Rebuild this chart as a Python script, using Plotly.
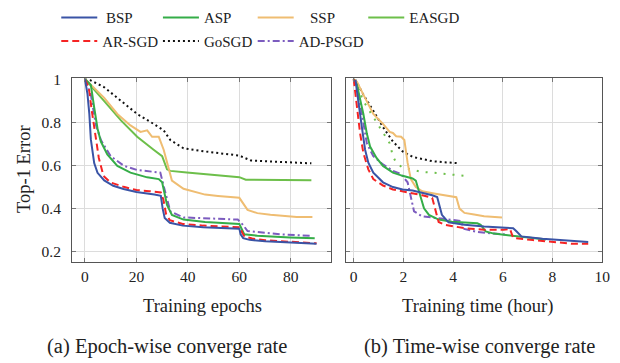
import plotly.graph_objects as go

# ---------------- data: epoch-wise (left panel) ----------------
bsp_ep_x = [0, 1, 1.7, 2.3, 3.6, 4.9, 7.5, 11, 15, 20, 27, 29.5, 30.2, 31, 33, 38, 46, 55, 60, 60.5, 61.5, 64, 70, 80, 90]
bsp_ep_y = [1.0, 0.93, 0.84, 0.72, 0.61, 0.565, 0.53, 0.505, 0.49, 0.476, 0.464, 0.458, 0.40, 0.355, 0.333, 0.32, 0.313, 0.309, 0.306, 0.28, 0.262, 0.254, 0.248, 0.242, 0.236]

asp_ep_x = [0, 2.3, 3.6, 4.9, 6.2, 8.7, 12.6, 17.7, 24.2, 28.7, 30, 31.9, 33.8, 38.3, 46.7, 55, 60, 61.9, 67, 79.7, 89.3]
asp_ep_y = [1.0, 0.973, 0.868, 0.77, 0.71, 0.65, 0.597, 0.566, 0.544, 0.536, 0.521, 0.416, 0.37, 0.348, 0.337, 0.332, 0.328, 0.28, 0.273, 0.265, 0.261]

ssp_ep_x = [0, 7.5, 12.6, 17.7, 21.6, 24.2, 26.1, 28.7, 30.6, 32.5, 33.8, 38.3, 46.7, 51.7, 60, 63.2, 67, 72.1, 82.3, 88.4]
ssp_ep_y = [1.0, 0.913, 0.838, 0.785, 0.755, 0.762, 0.732, 0.732, 0.672, 0.581, 0.529, 0.491, 0.464, 0.458, 0.449, 0.393, 0.378, 0.37, 0.36, 0.36]

easgd_ep_x = [0, 3, 7.5, 14, 20.3, 26.7, 30, 31.9, 33.2, 39.6, 46.7, 55, 60, 62.5, 70, 76, 88]
easgd_ep_y = [1.0, 0.96, 0.898, 0.808, 0.732, 0.672, 0.642, 0.581, 0.574, 0.566, 0.559, 0.552, 0.545, 0.533, 0.533, 0.532, 0.531]

arsgd_ep_x = [0, 1.5, 2.7, 3.8, 5.4, 7.2, 10, 15, 20, 25, 29.5, 30.5, 31.5, 33, 38, 46, 55, 60.5, 61, 62, 65, 70, 80, 90]
arsgd_ep_y = [1.0, 0.96, 0.85, 0.755, 0.634, 0.551, 0.52, 0.5, 0.485, 0.48, 0.474, 0.44, 0.375, 0.345, 0.328, 0.32, 0.315, 0.312, 0.29, 0.27, 0.26, 0.252, 0.245, 0.238]

gosgd_ep_x = [0, 2, 7.5, 13.9, 20.3, 26.7, 30.6, 33.2, 38.3, 46.7, 56.8, 60, 64.5, 75.9, 88]
gosgd_ep_y = [1.0, 0.995, 0.962, 0.9, 0.838, 0.792, 0.762, 0.717, 0.679, 0.664, 0.649, 0.645, 0.622, 0.615, 0.609]

adpsgd_ep_x = [0, 2.3, 4.2, 6.2, 10, 15.2, 20.3, 29.3, 31.2, 33.2, 38.3, 46.7, 59.4, 61.3, 63.2, 75.9, 87.4]
adpsgd_ep_y = [1.0, 0.928, 0.79, 0.717, 0.642, 0.597, 0.578, 0.566, 0.476, 0.386, 0.358, 0.355, 0.348, 0.325, 0.295, 0.28, 0.273]

# ---------------- data: time-wise (right panel, hours) ----------------
bsp_t_x = [0.07, 0.2, 0.33, 0.46, 0.59, 0.79, 1.18, 1.58, 1.97, 2.37, 2.76, 3.16, 3.36, 3.55, 3.82, 4.46, 5.25, 6.03, 6.42, 6.56, 6.75, 7.6, 8.39, 9.44]
bsp_t_y = [0.996, 0.898, 0.777, 0.672, 0.612, 0.566, 0.521, 0.499, 0.488, 0.483, 0.473, 0.461, 0.453, 0.37, 0.335, 0.324, 0.316, 0.311, 0.308, 0.293, 0.27, 0.259, 0.253, 0.244]

asp_t_x = [0.0, 0.13, 0.39, 0.53, 0.66, 0.92, 1.18, 1.58, 1.97, 2.37, 2.5, 2.63, 2.83, 3.03, 3.42, 3.95, 4.46, 4.98, 5.11, 5.31, 5.64, 6.42, 7.6, 7.74]
asp_t_y = [1.0, 0.973, 0.838, 0.747, 0.687, 0.634, 0.597, 0.566, 0.551, 0.539, 0.529, 0.476, 0.4, 0.37, 0.348, 0.338, 0.334, 0.331, 0.324, 0.293, 0.283, 0.274, 0.259, 0.256]

ssp_t_x = [0.0, 0.13, 0.39, 0.79, 1.18, 1.45, 1.58, 1.71, 1.91, 2.04, 2.17, 2.3, 2.5, 2.76, 3.29, 3.95, 4.13, 4.26, 4.46, 4.85, 5.25, 5.97]
ssp_t_y = [1.0, 0.988, 0.928, 0.838, 0.792, 0.755, 0.75, 0.735, 0.732, 0.717, 0.612, 0.536, 0.499, 0.479, 0.468, 0.456, 0.452, 0.399, 0.379, 0.372, 0.364, 0.358]

easgd_t_x = [0.0, 0.13, 0.39, 0.79, 1.18, 1.45, 1.58, 1.71, 1.97, 2.37, 2.76, 3.16, 3.55, 3.95, 4.2, 4.55]
easgd_t_y = [1.0, 0.973, 0.898, 0.823, 0.755, 0.702, 0.642, 0.612, 0.589, 0.578, 0.569, 0.566, 0.562, 0.559, 0.553, 0.55]

arsgd_t_x = [0.0, 0.13, 0.26, 0.39, 0.59, 0.79, 1.18, 1.58, 1.97, 2.37, 2.76, 3.16, 3.29, 3.42, 3.67, 4.46, 5.25, 6.03, 6.29, 6.42, 7.21, 8.0, 8.78, 9.44]
arsgd_t_y = [1.0, 0.868, 0.747, 0.657, 0.581, 0.536, 0.506, 0.488, 0.479, 0.473, 0.461, 0.449, 0.386, 0.337, 0.324, 0.308, 0.301, 0.301, 0.305, 0.263, 0.253, 0.245, 0.236, 0.236]

gosgd_t_x = [0.07, 0.39, 0.79, 1.18, 1.58, 1.97, 2.37, 2.76, 3.16, 3.55, 3.95, 4.15]
gosgd_t_y = [0.996, 0.928, 0.853, 0.777, 0.71, 0.664, 0.639, 0.63, 0.619, 0.615, 0.612, 0.61]

adpsgd_t_x = [0.0, 0.13, 0.33, 0.53, 0.79, 1.18, 1.58, 1.91, 2.17, 2.3, 2.43, 2.76, 3.29, 3.82, 4.3, 4.45, 5.0, 5.6, 6.2]
adpsgd_t_y = [1.0, 0.973, 0.838, 0.702, 0.642, 0.604, 0.574, 0.559, 0.521, 0.446, 0.386, 0.363, 0.355, 0.348, 0.342, 0.305, 0.29, 0.283, 0.278]

# ---------------- ticks / labels ----------------
y_tickvals = [0.2, 0.4, 0.6, 0.8, 1.0]
y_ticktext = ["0.2", "0.4", "0.6", "0.8", "1"]
ep_tickvals = [0, 20, 40, 60, 80]
t_tickvals = [0, 2, 4, 6, 8, 10]

FONT = "Liberation Serif, Times New Roman, serif"
W, H = 620, 363

C_BSP = "#3a54a6"
C_ASP = "#35ad48"
C_SSP = "#efbd72"
C_EASGD = "#6dbf4a"
C_AR = "#f52424"
C_GO = "#111111"
C_AD = "#7c5cbf"

def px_x(p):
    return p / W

def px_y(p):
    return 1 - p / H

NB = "\u00a0"
fig = go.Figure()

series = [
    ("BSP", bsp_ep_x, bsp_ep_y, bsp_t_x, bsp_t_y, C_BSP, "solid", "solid"),
    ("ASP", asp_ep_x, asp_ep_y, asp_t_x, asp_t_y, C_ASP, "solid", "solid"),
    ("SSP", ssp_ep_x, ssp_ep_y, ssp_t_x, ssp_t_y, C_SSP, "solid", "solid"),
    ("EASGD", easgd_ep_x, easgd_ep_y, easgd_t_x, easgd_t_y, C_EASGD, "solid", "2px,7px"),
    ("AR-SGD", arsgd_ep_x, arsgd_ep_y, arsgd_t_x, arsgd_t_y, C_AR, "7px,4px", "7px,4px"),
    ("GoSGD", gosgd_ep_x, gosgd_ep_y, gosgd_t_x, gosgd_t_y, C_GO, "2px,3px", "2px,3px"),
    ("AD-PSGD", adpsgd_ep_x, adpsgd_ep_y, adpsgd_t_x, adpsgd_t_y, C_AD, "7px,3px,2px,3px", "7px,3px,2px,3px"),
]
# extra gap (in no-break spaces) between legend line and its text, as in the reference
leg_pad = [1, 0, 3, 0, 0, 0, 0]

# legend item positions (line start x px, row center y px)
leg_pos = [(62, 10), (165, 10), (261, 10), (373, 10), (62, 34), (165, 34), (261, 34)]

order = [5, 3, 2, 6, 1, 4, 0]
for i in order:
    name, ex, ey, tx, ty, col, dash_ep, dash_t = series[i]
    lg = "legend" if i == 0 else f"legend{i+1}"
    label = NB * leg_pad[i] + name
    fig.add_trace(go.Scatter(x=ex, y=ey, mode="lines", name=label, legend=lg,
                             line=dict(color=col, width=2, dash=dash_ep),
                             xaxis="x", yaxis="y", showlegend=True))
    fig.add_trace(go.Scatter(x=tx, y=ty, mode="lines", name=label, legend=lg,
                             line=dict(color=col, width=2, dash=dash_t),
                             xaxis="x2", yaxis="y2", showlegend=False))

legends = {}
for i, (lx, ly) in enumerate(leg_pos):
    key = "legend" if i == 0 else f"legend{i+1}"
    legends[key] = dict(x=px_x(lx - 5), y=px_y(ly), xanchor="left", yanchor="middle",
                        orientation="h", bgcolor="rgba(0,0,0,0)", borderwidth=0,
                        font=dict(family=FONT, size=15, color="#222"),
                        itemwidth=36, tracegroupgap=0)

axis_common = dict(showgrid=True, gridcolor="#dcdcdc", gridwidth=1,
                   showline=True, linecolor="#555", linewidth=1, mirror="ticks",
                   ticks="inside", ticklen=4, tickcolor="#777",
                   zeroline=False, tickfont=dict(family=FONT, size=15.5, color="#222"))

xd1 = [73 / W, 335 / W]
xd2 = [351 / W, 610 / W]
yd = [1 - 260 / H, 1 - 72 / H]

fig.update_layout(
    width=W, height=H,
    margin=dict(l=0, r=0, t=0, b=0),
    paper_bgcolor="white", plot_bgcolor="white",
    font=dict(family=FONT, size=15, color="#222"),
    xaxis=dict(domain=xd1, range=[-5.0, 95.5], tickvals=ep_tickvals, anchor="y", **axis_common),
    yaxis=dict(domain=yd, range=[0.15, 1.003], tickvals=y_tickvals, ticktext=y_ticktext,
               anchor="x", ticklabelstandoff=7, **axis_common),
    xaxis2=dict(domain=xd2, range=[-0.29, 10.0], tickvals=t_tickvals, anchor="y2", **axis_common),
    yaxis2=dict(domain=yd, range=[0.15, 1.003], tickvals=y_tickvals, anchor="x2",
                showticklabels=False, **axis_common),
    showlegend=True,
    **legends,
)

ann_font = dict(family=FONT, size=18.5, color="#222")
cap_font = dict(family=FONT, size=20.5, color="#222")
fig.add_annotation(text="Top-1 Error", x=px_x(25), y=px_y(165), xref="paper", yref="paper",
                   textangle=-90, showarrow=False, font=ann_font, xanchor="center", yanchor="middle")
fig.add_annotation(text="Training epochs", x=px_x(205), y=px_y(305), xref="paper", yref="paper",
                   showarrow=False, font=ann_font, xanchor="center", yanchor="middle")
fig.add_annotation(text="Training time (hour)", x=px_x(484), y=px_y(305), xref="paper", yref="paper",
                   showarrow=False, font=ann_font, xanchor="center", yanchor="middle")
fig.add_annotation(text="(a) Epoch-wise converge rate", x=px_x(169), y=px_y(346), xref="paper", yref="paper",
                   showarrow=False, font=cap_font, xanchor="center", yanchor="middle")
fig.add_annotation(text="(b) Time-wise converge rate", x=px_x(486), y=px_y(346), xref="paper", yref="paper",
                   showarrow=False, font=cap_font, xanchor="center", yanchor="middle")

fig.write_html("out.html", post_script="document.body.style.margin='0';",
               config={"displayModeBar": False})
